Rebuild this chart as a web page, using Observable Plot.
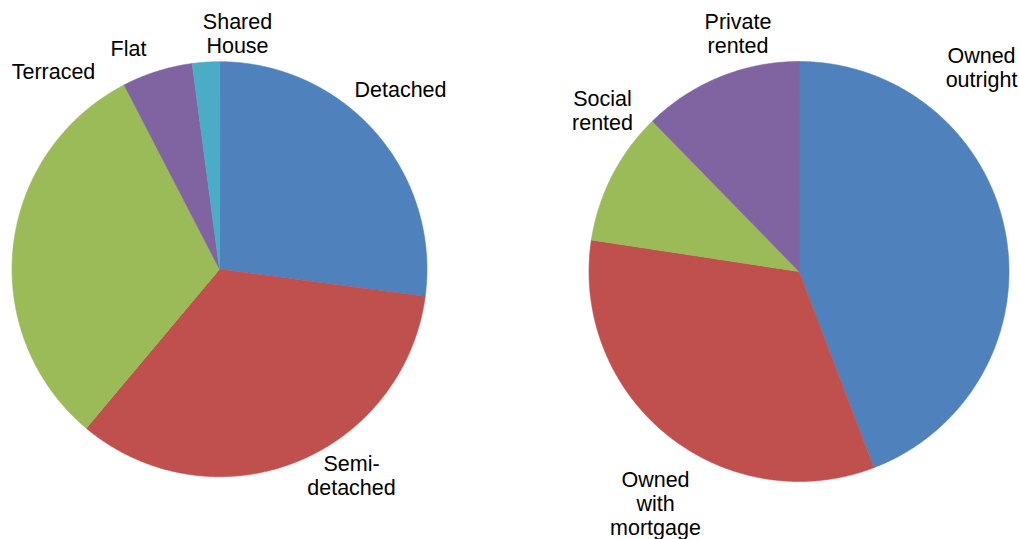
<!DOCTYPE html>
<html><head><meta charset="utf-8">
<script src="https://cdn.jsdelivr.net/npm/d3@7"></script>
<script src="https://cdn.jsdelivr.net/npm/@observablehq/plot@0.6"></script>
<style>html,body{margin:0;padding:0;background:#fff;overflow:hidden}</style>
</head><body><div id="chart"></div>
<script>
// ---- data ----
const dwellingTypes = ["Detached", "Semi-\ndetached", "Terraced", "Flat", "Shared\nHouse"];
const dwellingShares = [27.1, 34.0, 31.3, 5.5, 2.1];
const tenureTypes = ["Owned\noutright", "Owned\nwith\nmortgage", "Social\nrented", "Private\nrented"];
const tenureShares = [44.2, 33.2, 10.3, 12.3];
const dwellingColors = ["#4F81BD", "#C0504D", "#9BBB59", "#8064A2", "#4BACC6"];
const tenureColors = ["#4F81BD", "#C0504D", "#9BBB59", "#8064A2"];

// ---- layout ----
const W = 1019, H = 539;
const pieLayouts = [
  {cx: 219, cy: 268.7, r: 207.5,
   labelOffsets: [[181, -180], [132, 206], [-166, -198], [-91, -221], [18, -236]]},
  {cx: 798.5, cy: 271, r: 210,
   labelOffsets: [[182.5, -204.5], [-143.5, 232], [-196.5, -161], [-61, -238.5]]}
];
const pies = [
  {names: dwellingTypes, values: dwellingShares, colors: dwellingColors, ...pieLayouts[0]},
  {names: tenureTypes, values: tenureShares, colors: tenureColors, ...pieLayouts[1]}
];

const slicePts = [], labels = [], colorDomain = [], colorRange = [];
pies.forEach((p, pi) => {
  const rows = p.names.map((n, i) => ({name: n, value: p.values[i], color: p.colors[i]}));
  const arcs = d3.pie().sort(null).value(d => d.value)(rows);
  arcs.forEach((a, i) => {
    const key = pi + ":" + a.data.name;
    colorDomain.push(key); colorRange.push(a.data.color);
    slicePts.push({key, x: p.cx, y: p.cy});
    const n = Math.max(2, Math.ceil((a.endAngle - a.startAngle) / (Math.PI / 720)));
    for (let k = 0; k <= n; k++) {
      const t = a.startAngle + (a.endAngle - a.startAngle) * k / n;
      slicePts.push({key, x: p.cx + p.r * Math.sin(t), y: p.cy - p.r * Math.cos(t)});
    }
    const off = p.labelOffsets[i];
    labels.push({text: a.data.name, x: p.cx + off[0], y: p.cy + off[1]});
  });
});

const chart = Plot.plot({
  width: W, height: H,
  margin: 0,
  style: {fontFamily: "'Liberation Sans', Arial, sans-serif", background: "#fff"},
  x: {domain: [0, W], range: [0, W], axis: null},
  y: {domain: [0, H], range: [0, H], axis: null},
  color: {domain: colorDomain, range: colorRange},
  marks: [
    Plot.line(slicePts, {x: "x", y: "y", z: "key", fill: "key", stroke: "key", strokeWidth: 0.6, curve: "linear-closed"}),
    Plot.text(labels, {x: "x", y: "y", text: "text", fontSize: 21.5, lineHeight: 1.12, fill: "#000", textAnchor: "middle", fontFamily: "Liberation Sans"})
  ]
});
document.getElementById("chart").appendChild(chart);
</script>
</body></html>
